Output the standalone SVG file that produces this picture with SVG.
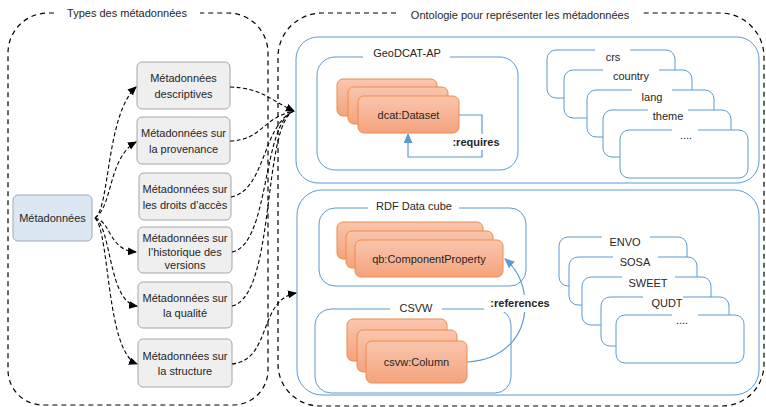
<svg xmlns="http://www.w3.org/2000/svg" width="766" height="407" viewBox="0 0 766 407">
<style>
text{font-family:"Liberation Sans",Arial,sans-serif;font-size:11px;fill:#262626;text-anchor:middle}
.b{font-weight:bold}
.dash{fill:none;stroke:#000;stroke-width:1.2;stroke-dasharray:5,4}
.con{fill:none;stroke:#000;stroke-width:1.1;stroke-dasharray:4,2.5}
.gray{fill:#efefef;stroke:#a6a6a6;stroke-width:1}
.blue{fill:#fff;stroke:#5b9bd5;stroke-width:1}
.org{fill:url(#og);stroke:#f08a4b;stroke-width:1}
.wb{fill:#fff;stroke:none}
.bl{fill:none;stroke:#5b9bd5;stroke-width:1.2}
</style>
<defs>
<linearGradient id="og" x1="0" y1="0" x2="0" y2="1">
<stop offset="0" stop-color="#f9c6ae"/>
<stop offset="1" stop-color="#f4a37c"/>
</linearGradient>
<marker id="ak" markerUnits="userSpaceOnUse" markerWidth="9" markerHeight="8" refX="8" refY="4" orient="auto">
<path d="M0,0 L9,4 L0,8 z" fill="#000"/>
</marker>
<marker id="ab" markerUnits="userSpaceOnUse" markerWidth="10" markerHeight="9" refX="9" refY="4.5" orient="auto">
<path d="M0,0 L10,4.5 L0,9 z" fill="#5b9bd5"/>
</marker>
</defs>
<rect width="766" height="407" fill="#fff"/>

<g id="types-container">
<path class="dash" d="M54,13 H48 A40,40 0 0 0 8,53 V370 A35,35 0 0 0 43,405 H233 A35,35 0 0 0 268,370 V53 A40,40 0 0 0 228,13 H200"/>
<text x="127" y="17">Types des métadonnées</text>
</g>
<g id="ontology-container">
<path class="dash" d="M396,13 H322 A44,44 0 0 0 278,57 V364 A42,42 0 0 0 320,406 H722 A42,42 0 0 0 764,364 V57 A44,44 0 0 0 720,13 H643"/>
<text x="520" y="19">Ontologie pour représenter les métadonnées</text>
</g>

<g id="geodcat-group">
<rect class="blue" x="296" y="37" width="463" height="146" rx="22"/>
</g>
<g id="rdf-group">
<rect class="blue" x="297" y="190" width="462" height="205" rx="25"/>
</g>

<g id="geodcat-ap">
<rect class="blue" x="317" y="57" width="201" height="113" rx="18"/>
<rect class="wb" x="363" y="53" width="87" height="8"/>
<text x="407" y="57">GeoDCAT-AP</text>
</g>
<g id="dcat-dataset">
<rect class="org" x="337" y="79" width="100" height="37" rx="6"/>
<rect class="org" x="348" y="87" width="100" height="37" rx="6"/>
<rect class="org" x="358" y="96" width="101" height="37" rx="6"/>
<text x="408.5" y="119">dcat:Dataset</text>
</g>

<g id="rdf-data-cube">
<rect class="blue" x="319" y="208" width="207" height="78" rx="16"/>
<rect class="wb" x="368" y="204" width="91" height="8"/>
<text x="414" y="210">RDF Data cube</text>
</g>
<g id="qb-componentproperty">
<rect class="org" x="337" y="222" width="146" height="37" rx="6"/>
<rect class="org" x="346" y="231" width="147" height="37" rx="6"/>
<rect class="org" x="355" y="240" width="148" height="37" rx="6"/>
<text x="429" y="263">qb:ComponentProperty</text>
</g>

<g id="csvw">
<rect class="blue" x="315" y="309" width="196" height="84" rx="16"/>
<rect class="wb" x="390" y="305" width="52" height="8"/>
<text x="416" y="312">CSVW</text>
</g>
<g id="csvw-column">
<rect class="org" x="347" y="319" width="100" height="42" rx="6"/>
<rect class="org" x="357" y="330" width="100" height="42" rx="6"/>
<rect class="org" x="366" y="341" width="101" height="42" rx="6"/>
<text x="416.5" y="366">csvw:Column</text>
</g>

<g id="geodcat-vocabularies">
<rect class="blue" x="547" y="50" width="128" height="48" rx="9"/>
<rect class="wb" x="595" y="47" width="35" height="6"/>
<text x="613" y="61">crs</text>
<rect class="blue" x="564" y="70" width="128" height="48" rx="9"/>
<rect class="wb" x="603" y="67" width="56" height="6"/>
<text x="631" y="80">country</text>
<rect class="blue" x="587" y="90" width="127" height="47" rx="9"/>
<rect class="wb" x="632" y="87" width="40" height="6"/>
<text x="652" y="101">lang</text>
<rect class="blue" x="603" y="110" width="128" height="47" rx="9"/>
<rect class="wb" x="648" y="107" width="40" height="6"/>
<text x="668" y="120">theme</text>
<rect class="blue" x="620" y="130" width="128" height="48" rx="9"/>
<rect class="wb" x="672" y="127" width="26" height="6"/>
<text x="686" y="139">....</text>
</g>

<g id="domain-ontologies">
<rect class="blue" x="559" y="237" width="128" height="49" rx="9"/>
<rect class="wb" x="602" y="234" width="48" height="6"/>
<text x="625" y="246">ENVO</text>
<rect class="blue" x="569" y="257" width="128" height="48" rx="9"/>
<rect class="wb" x="613" y="254" width="45" height="6"/>
<text x="635" y="266">SOSA</text>
<rect class="blue" x="582" y="277" width="129" height="48" rx="9"/>
<rect class="wb" x="622" y="274" width="53" height="6"/>
<text x="648" y="287">SWEET</text>
<rect class="blue" x="601" y="297" width="128" height="49" rx="9"/>
<rect class="wb" x="643" y="294" width="40" height="6"/>
<text x="667" y="307">QUDT</text>
<rect class="blue" x="616" y="315" width="128" height="48" rx="9"/>
<rect class="wb" x="672" y="312" width="26" height="6"/>
<text x="682" y="324">....</text>
</g>

<g id="metadonnees">
<rect x="13" y="195" width="79" height="46" rx="5" fill="#dce7f4" stroke="#a0aab4"/>
<text x="52.5" y="222">Métadonnées</text>
</g>
<g id="md-descriptives">
<rect class="gray" x="137" y="62" width="93" height="47" rx="5"/>
<text x="183.5" y="82">Métadonnées</text>
<text x="183.5" y="98">descriptives</text>
</g>
<g id="md-provenance">
<rect class="gray" x="137" y="117" width="93" height="47" rx="5"/>
<text x="183.5" y="137">Métadonnées sur</text>
<text x="183.5" y="153">la provenance</text>
</g>
<g id="md-droits">
<rect class="gray" x="139" y="173" width="92" height="47" rx="5"/>
<text x="185" y="193">Métadonnées sur</text>
<text x="185" y="209">les droits d’accès</text>
</g>
<g id="md-historique">
<rect class="gray" x="138" y="227" width="94" height="46" rx="5"/>
<text x="185" y="242">Métadonnées sur</text>
<text x="185" y="256">l’historique des</text>
<text x="185" y="269">versions</text>
</g>
<g id="md-qualite">
<rect class="gray" x="138" y="282" width="94" height="46" rx="5"/>
<text x="185" y="302">Métadonnées sur</text>
<text x="185" y="317">la qualité</text>
</g>
<g id="md-structure">
<rect class="gray" x="138" y="339" width="94" height="48" rx="5"/>
<text x="185" y="360">Métadonnées sur</text>
<text x="185" y="375">la structure</text>
</g>

<g id="connectors">
<path class="con" marker-end="url(#ak)" d="M95,218 C110,208 106,115 136,87"/>
<path class="con" marker-end="url(#ak)" d="M95,218 C113,206 108,158 136,142"/>
<path class="con" marker-end="url(#ak)" d="M95,218 C112,222 108,250 136,252"/>
<path class="con" marker-end="url(#ak)" d="M95,218 C112,228 108,302 137,306"/>
<path class="con" marker-end="url(#ak)" d="M95,218 C110,232 106,352 137,364"/>
<path class="con" marker-end="url(#ak)" d="M230,87 C262,88 270,100 294,111"/>
<path class="con" d="M230,141 C262,140 262,118 294,111"/>
<path class="con" d="M231,197 C266,190 262,125 294,111"/>
<path class="con" d="M232,252 C270,245 262,122 294,111"/>
<path class="con" d="M232,306 C276,296 262,124 294,111"/>
<path class="con" marker-end="url(#ak)" d="M232,364 C272,360 258,300 296,293"/>
<path class="bl" marker-end="url(#ab)" d="M459,115 H482 V157 H408 V134"/>
<rect class="wb" x="452" y="134" width="48" height="16"/>
<text class="b" x="476" y="146">:requires</text>
<path class="bl" marker-end="url(#ab)" d="M467,362 C502,360 525,338 525,305 C525,285 518,270 505,259"/>
<rect class="wb" x="484" y="295" width="68" height="17"/>
<text class="b" x="520" y="307">:references</text>
</g>
</svg>
